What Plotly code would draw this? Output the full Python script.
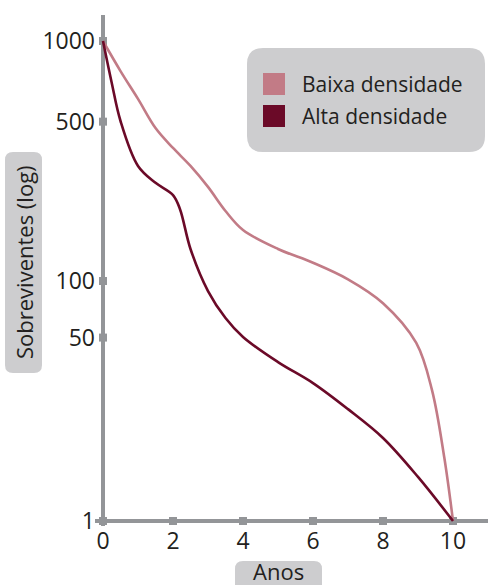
import numpy as np
import plotly.graph_objects as go

# ---------------- data ----------------
years_baixa = [0, 0.5, 1, 1.5, 2, 2.5, 3, 3.5, 4, 5, 6, 7, 8, 8.95, 9.4, 9.75, 10]
baixa = [1000, 778, 612, 472, 393, 332, 271, 213, 175, 143, 123, 102, 77, 46.6, 23.8, 7.2, 1]

years_alta = [0, 0.25, 0.5, 1, 1.5, 2, 2.2, 2.5, 3, 3.5, 4, 5, 6, 7, 8, 9, 10]
alta = [1000, 703, 503, 332, 282, 250, 217, 143, 89, 64.2, 50.4, 35.9, 26.5, 17.6, 10.6, 4.6, 1]

x_ticks = [0, 2, 4, 6, 8, 10]
y_ticks = [1, 50, 100, 500, 1000]
y_tick_labels = ["1", "50", "100", "500", "1000"]

series_names = ["Baixa densidade", "Alta densidade"]
series_colors = ["#C27B86", "#6B0A28"]
x_title = "Anos"
y_title = "Sobreviventes (log)"


# The original uses a schematic "log" axis: position grows as L*(1+L), L = log10(value)
def scale(v):
    L = np.log10(np.asarray(v, dtype=float))
    return L * (1 + L)


AXIS = "#939598"
BOX = "#CDCDCF"
TXT = "#231F20"
FONT = "Open Sans, sans-serif"

W, H = 488, 585
ML, MR, MT, MB = 96, 0, 15, 60
PW, PH = W - ML - MR, H - MT - MB


def px(x):
    return (x - ML) / PW


def py(y):
    return (H - MB - y) / PH


def rounded(x0, y0, x1, y1, r):
    # pixel box -> rounded-rect path in paper coords
    X0, X1 = px(x0), px(x1)
    Y0, Y1 = py(y0), py(y1)  # Y0 top (bigger), Y1 bottom
    rx, ry = r / PW, r / PH
    return (f"M {X0+rx},{Y0} L {X1-rx},{Y0} Q {X1},{Y0} {X1},{Y0-ry} "
            f"L {X1},{Y1+ry} Q {X1},{Y1} {X1-rx},{Y1} L {X0+rx},{Y1} "
            f"Q {X0},{Y1} {X0},{Y1+ry} L {X0},{Y0-ry} Q {X0},{Y0} {X0+rx},{Y0} Z")


fig = go.Figure()

# tick squares on the axes
fig.add_trace(go.Scatter(x=x_ticks, y=[0] * len(x_ticks), mode="markers",
                         marker=dict(symbol="square", size=8, color=AXIS),
                         showlegend=False, hoverinfo="skip", cliponaxis=False))
fig.add_trace(go.Scatter(x=[0] * len(y_ticks), y=scale(y_ticks), mode="markers",
                         marker=dict(symbol="square", size=8, color=AXIS),
                         showlegend=False, hoverinfo="skip", cliponaxis=False))

for xs, ys, name, col in [(years_baixa, baixa, series_names[0], series_colors[0]),
                          (years_alta, alta, series_names[1], series_colors[1])]:
    fig.add_trace(go.Scatter(x=xs, y=scale(ys), mode="lines", name=name,
                             line=dict(color=col, width=2.6, shape="spline", smoothing=1.0),
                             showlegend=False, cliponaxis=False))

shapes = [
    # axis lines
    dict(type="line", xref="paper", yref="y", x0=px(95), x1=1, y0=0, y1=0,
         line=dict(color=AXIS, width=4), layer="below"),
    dict(type="line", xref="x", yref="paper", x0=0, x1=0, y0=py(526), y1=1,
         line=dict(color=AXIS, width=4), layer="below"),
    # legend box
    dict(type="path", xref="paper", yref="paper", path=rounded(247, 48, 485, 152, 16),
         fillcolor=BOX, line=dict(width=0), layer="below"),
    dict(type="rect", xref="paper", yref="paper", x0=px(263), x1=px(285), y0=py(73), y1=py(95),
         fillcolor=series_colors[0], line=dict(width=0)),
    dict(type="rect", xref="paper", yref="paper", x0=px(263), x1=px(285), y0=py(105), y1=py(127),
         fillcolor=series_colors[1], line=dict(width=0)),
    # axis title boxes
    dict(type="path", xref="paper", yref="paper", path=rounded(5, 152, 42, 373, 8),
         fillcolor=BOX, line=dict(width=0), layer="below"),
    dict(type="path", xref="paper", yref="paper", path=rounded(235, 561, 322, 600, 8),
         fillcolor=BOX, line=dict(width=0), layer="below"),
]

LEG = dict(size=21, color=TXT, family=FONT)
annotations = [
    dict(text=series_names[0], xref="paper", yref="paper", x=px(300), y=py(84),
         xanchor="left", yanchor="middle", showarrow=False, font=LEG),
    dict(text=series_names[1], xref="paper", yref="paper", x=px(300), y=py(116),
         xanchor="left", yanchor="middle", showarrow=False, font=LEG),
    dict(text=y_title, xref="paper", yref="paper", x=px(24), y=py(262), textangle=-90,
         xanchor="center", yanchor="middle", showarrow=False,
         font=dict(size=22, color=TXT, family=FONT)),
    dict(text=x_title, xref="paper", yref="paper", x=px(278), y=py(571),
         xanchor="center", yanchor="middle", showarrow=False,
         font=dict(size=22, color=TXT, family=FONT)),
]

fig.update_layout(
    width=W, height=H, margin=dict(l=ML, r=MR, t=MT, b=MB),
    paper_bgcolor="white", plot_bgcolor="white",
    showlegend=False, shapes=shapes, annotations=annotations,
    font=dict(family=FONT, size=23, color=TXT),
    xaxis=dict(range=[-0.2, 11.0], tickvals=x_ticks, ticks="", showgrid=False,
               zeroline=False, showline=False, automargin=False,
               tickfont=dict(size=23, color=TXT)),
    yaxis=dict(range=[-0.1, 12.65], tickvals=list(scale(y_ticks)), ticktext=y_tick_labels,
               ticks="", showgrid=False, zeroline=False, showline=False, automargin=False,
               tickfont=dict(size=23, color=TXT)),
)

fig.write_html("out.html", config={"displayModeBar": False},
               post_script="document.body.style.margin='0';document.body.style.overflow='hidden';")
